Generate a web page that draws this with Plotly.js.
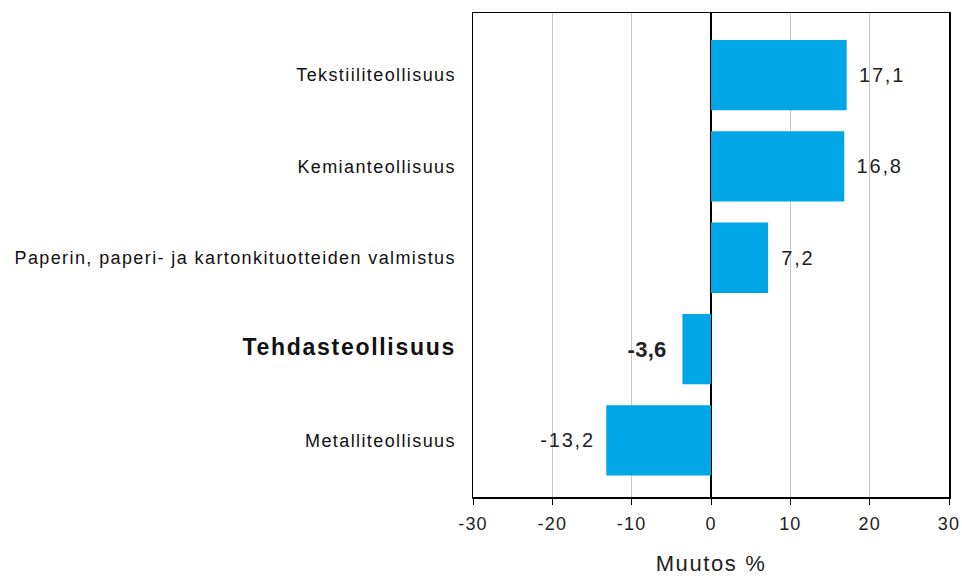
<!DOCTYPE html>
<html><head><meta charset="utf-8">
<script src="https://cdn.plot.ly/plotly-3.0.1.min.js"></script>
<style>
body{margin:0;background:#fff}#c{width:962px;height:576px}
#c .ytick text{letter-spacing:1.4px}
#c .xtick text{letter-spacing:1.2px}
#c .textpoint text, #c .bartext{letter-spacing:1.8px}
#c .g-xtitle text{letter-spacing:1.6px}
</style>
</head><body><div id="c"></div>
<script>
const categories = ["Tekstiiliteollisuus","Kemianteollisuus","Paperin, paperi- ja kartonkituotteiden valmistus","Tehdasteollisuus","Metalliteollisuus"];
const values = [17.1, 16.8, 7.2, -3.6, -13.2];
const boldIndex = 3;
const xTicks = [-30,-20,-10,0,10,20,30];

const fmt = v => v.toFixed(1).replace('.', ',');
const ticktext = categories.map((c,i)=> i===boldIndex ? '<b><span style="font-size:23px;letter-spacing:1.7px">'+c+'</span></b>' : c);
const texts = values.map((v,i)=> {
  let s = fmt(v);
  s = v >= 0 ? '\u00A0\u00A0' + s : s + '\u00A0\u00A0';
  return i===boldIndex ? '<b><span style="font-size:22px;letter-spacing:0.3px">'+s+'</span></b>' : s;
});
const idx = categories.map((c,i)=>i);

const trace = {
  type:'bar', orientation:'h', x: values, y: idx,
  marker:{color:'#00A6E6', line:{width:0}},
  width:0.77,
  text: texts, textposition:'outside', cliponaxis:false,
  textfont:{family:'Liberation Sans, Arial, sans-serif', size:20, color:'#222'},
  hoverinfo:'none'
};
const layout = {
  width:962, height:576,
  margin:{l:473, r:13, t:13, b:79},
  paper_bgcolor:'#fff', plot_bgcolor:'#fff',
  showlegend:false,
  separators:',.',
  font:{family:'Liberation Sans, Arial, sans-serif', color:'#222'},
  xaxis:{
    range:[-30,30], tickvals:xTicks, ticktext:xTicks.map(String),
    showgrid:true, gridcolor:'#c8c8c8', gridwidth:1,
    zeroline:true, zerolinecolor:'#000', zerolinewidth:2,
    showline:true, linecolor:'#000', linewidth:1.5, mirror:true,
    ticks:'outside', ticklen:6, tickcolor:'#000', ticklabelstandoff:4,
    tickfont:{size:18, color:'#222'},
    title:{text:'Muutos %', font:{size:22, color:'#222'}, standoff:22}
  },
  yaxis:{
    tickvals: idx, ticktext: ticktext,
    range:[4.62,-0.68],
    showgrid:false, zeroline:false,
    showline:true, linecolor:'#000', linewidth:1.5, mirror:true,
    ticks:'', ticklabelstandoff:12,
    tickfont:{size:18, color:'#111'}
  }
};
Plotly.newPlot('c',[trace],layout,{displayModeBar:false, staticPlot:true});
</script></body></html>
